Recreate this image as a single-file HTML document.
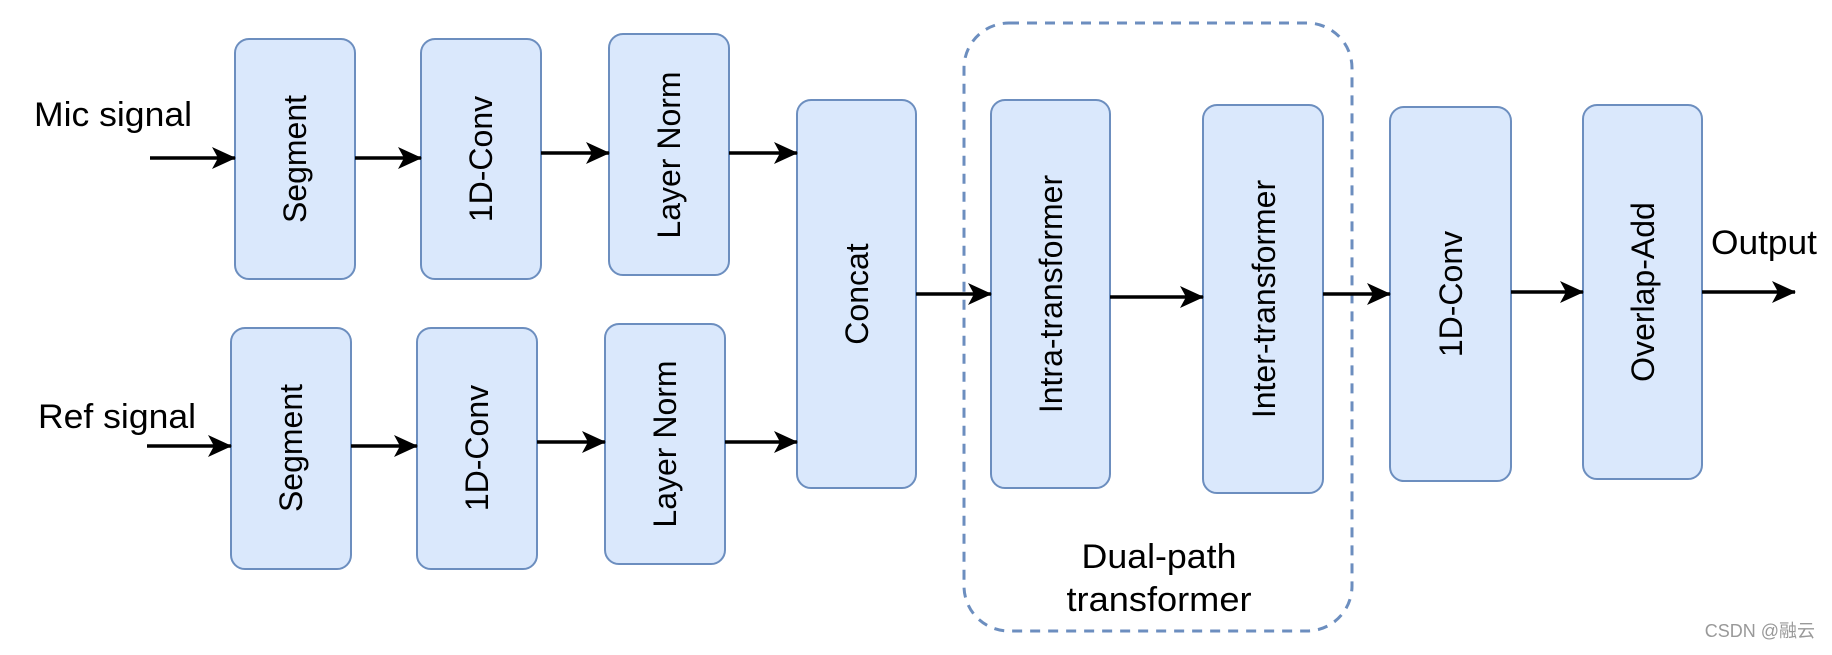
<!DOCTYPE html>
<html><head><style>body{margin:0;background:#fff}</style></head><body>
<svg width="1832" height="650" xmlns="http://www.w3.org/2000/svg" font-family="Liberation Sans, Arial, sans-serif">
<defs>
<marker id="b" viewBox="0 0 24 24" refX="23" refY="12" markerWidth="24" markerHeight="24" orient="auto" markerUnits="userSpaceOnUse"><path d="M0,1 L24,12 L0,23 L6,12 Z" fill="#000"/></marker></defs>
<g fill="#dae8fc" stroke="#6c8ebf" stroke-width="2">
<rect x="235" y="39" width="120" height="240" rx="14"/>
<rect x="421" y="39" width="120" height="240" rx="14"/>
<rect x="609" y="34" width="120" height="241" rx="14"/>
<rect x="231" y="328" width="120" height="241" rx="14"/>
<rect x="417" y="328" width="120" height="241" rx="14"/>
<rect x="605" y="324" width="120" height="240" rx="14"/>
<rect x="797" y="100" width="119" height="388" rx="14"/>
<rect x="991" y="100" width="119" height="388" rx="14"/>
<rect x="1203" y="105" width="120" height="388" rx="14"/>
<rect x="1390" y="107" width="121" height="374" rx="14"/>
<rect x="1583" y="105" width="119" height="374" rx="14"/>
</g>
<rect x="964" y="23" width="388" height="608" rx="45" fill="none" stroke="#6c8ebf" stroke-width="3" stroke-dasharray="10,8"/>
<g stroke="#000" stroke-width="3.5" marker-end="url(#b)">
<line x1="150" y1="158" x2="235" y2="158"/>
<line x1="355" y1="158" x2="421" y2="158"/>
<line x1="541" y1="153" x2="609" y2="153"/>
<line x1="729" y1="153" x2="797" y2="153"/>
<line x1="147" y1="446" x2="231" y2="446"/>
<line x1="351" y1="446" x2="417" y2="446"/>
<line x1="537" y1="442" x2="605" y2="442"/>
<line x1="725" y1="442" x2="797" y2="442"/>
<line x1="916" y1="294" x2="991" y2="294"/>
<line x1="1110" y1="297" x2="1203" y2="297"/>
<line x1="1323" y1="294" x2="1390" y2="294"/>
<line x1="1511" y1="292" x2="1583" y2="292"/>
<line x1="1702" y1="292" x2="1795" y2="292"/>
</g>
<g font-size="32" text-anchor="middle" fill="#000">
<text transform="translate(306,159) rotate(-90)">Segment</text>
<text transform="translate(492,159) rotate(-90)">1D-Conv</text>
<text transform="translate(680,155) rotate(-90)">Layer Norm</text>
<text transform="translate(302,448) rotate(-90)">Segment</text>
<text transform="translate(488,448) rotate(-90)">1D-Conv</text>
<text transform="translate(676,444) rotate(-90)">Layer Norm</text>
<text transform="translate(868,294) rotate(-90)">Concat</text>
<text transform="translate(1062,294) rotate(-90)">Intra-transformer</text>
<text transform="translate(1275,299) rotate(-90)">Inter-transformer</text>
<text transform="translate(1462,294) rotate(-90)">1D-Conv</text>
<text transform="translate(1654,292) rotate(-90)">Overlap-Add</text>
</g>
<g font-size="34" fill="#000">
<text x="34" y="126" textLength="158" lengthAdjust="spacingAndGlyphs">Mic signal</text>
<text x="38" y="428" textLength="158" lengthAdjust="spacingAndGlyphs">Ref signal</text>
<text x="1711" y="254" textLength="106" lengthAdjust="spacingAndGlyphs">Output</text>
<text x="1159" y="568" text-anchor="middle" textLength="155" lengthAdjust="spacingAndGlyphs">Dual-path</text>
<text x="1159" y="611" text-anchor="middle" textLength="185" lengthAdjust="spacingAndGlyphs">transformer</text>
</g>
<text x="1815" y="637" font-size="18" fill="#999" text-anchor="end" font-family="Liberation Sans, Noto Sans CJK SC, sans-serif">CSDN @融云</text>
</svg>
</body></html>
